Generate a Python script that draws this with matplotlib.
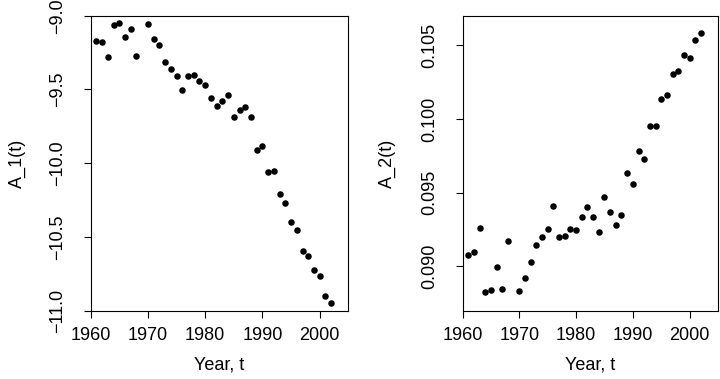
import matplotlib
matplotlib.use("Agg")
import matplotlib.pyplot as plt
import numpy as np

plt.rcParams['font.family'] = ['Liberation Sans', 'DejaVu Sans']

years = [1961, 1962, 1963, 1964, 1965, 1966, 1967, 1968, 1970, 1971, 1972, 1973,
         1974, 1975, 1976, 1977, 1978, 1979, 1980, 1981, 1982, 1983, 1984, 1985,
         1986, 1987, 1988, 1989, 1990, 1991, 1992, 1993, 1994, 1995, 1996, 1997,
         1998, 1999, 2000, 2001, 2002]

a1 = [-9.17, -9.18, -9.28, -9.063, -9.052, -9.143, -9.092, -9.274, -9.056, -9.158,
      -9.197, -9.312, -9.362, -9.412, -9.505, -9.410, -9.401, -9.444, -9.473, -9.559,
      -9.611, -9.577, -9.539, -9.688, -9.643, -9.622, -9.686, -9.910, -9.883, -10.062,
      -10.055, -10.209, -10.272, -10.399, -10.456, -10.594, -10.628, -10.723, -10.766,
      -10.899, -10.952]

a2 = [0.09075, 0.09095, 0.09258, 0.08827, 0.08840, 0.08993, 0.08849, 0.09174, 0.08830,
      0.08923, 0.09029, 0.09144, 0.09201, 0.09256, 0.09409, 0.09201, 0.09205, 0.09253,
      0.09249, 0.09337, 0.09400, 0.09337, 0.09231, 0.09468, 0.09366, 0.09280, 0.09351,
      0.09636, 0.09558, 0.09785, 0.09726, 0.09955, 0.09955, 0.10135, 0.10162, 0.10305,
      0.10325, 0.10430, 0.10412, 0.10538, 0.10583]

xticks = [1960, 1970, 1980, 1990, 2000]
y1ticks = [-9.0, -9.5, -10.0, -10.5, -11.0]
y1labels = ["-9.0", "-9.5", "-10.0", "-10.5", "-11.0"]
y2ticks = [0.090, 0.095, 0.100, 0.105]
y2labels = ["0.090", "0.095", "0.100", "0.105"]

W, H = 720, 379
fig = plt.figure(figsize=(W / 100, H / 100), dpi=100)

def px_axes(x0, x1, ytop, ybot):
    return fig.add_axes([x0 / W, (H - ybot) / H, (x1 - x0) / W, (ybot - ytop) / H])

ax1 = px_axes(90.7, 348.3, 15.7, 310.5)
ax2 = px_axes(462.5, 718.0, 15.7, 310.5)

FS = 13

def style(ax, yt, yl, ylabel, ylab_x, xlab_x):
    ax.set_xlim(1960, 2005)
    ax.set_xticks(xticks)
    ax.set_xticklabels([str(t) for t in xticks])
    ax.set_yticks(yt)
    ax.set_yticklabels([s.replace("-", "\u2212") for s in yl], rotation=90, va='center')
    for sp in ax.spines.values():
        sp.set_linewidth(0.8)
        sp.set_color('black')
    ax.tick_params(direction='out', length=5, width=0.8, labelsize=FS, colors='black')
    ax.tick_params(axis='x', pad=7)
    ax.tick_params(axis='y', pad=12.5)
    ax.set_xlabel("Year, t", fontsize=FS, va='center', ha='center')
    ax.xaxis.set_label_coords(xlab_x / W, (H - 365) / H, transform=fig.transFigure)
    ax.set_ylabel(ylabel, fontsize=FS, va='center', ha='center')
    ax.yaxis.set_label_coords(ylab_x / W, (H - 163) / H, transform=fig.transFigure)

ax1.scatter(years, a1, s=22, color='black', clip_on=True, linewidths=0)
ax1.set_ylim(-11.0, -9.0)
style(ax1, y1ticks, y1labels, "A_1(t)", 17.5, 219.5)

ax2.scatter(years, a2, s=22, color='black', clip_on=True, linewidths=0)
ax2.set_ylim(0.087, 0.107)
style(ax2, y2ticks, y2labels, "A_2(t)", 387.5, 590)

fig.savefig("out.png", dpi=100)
